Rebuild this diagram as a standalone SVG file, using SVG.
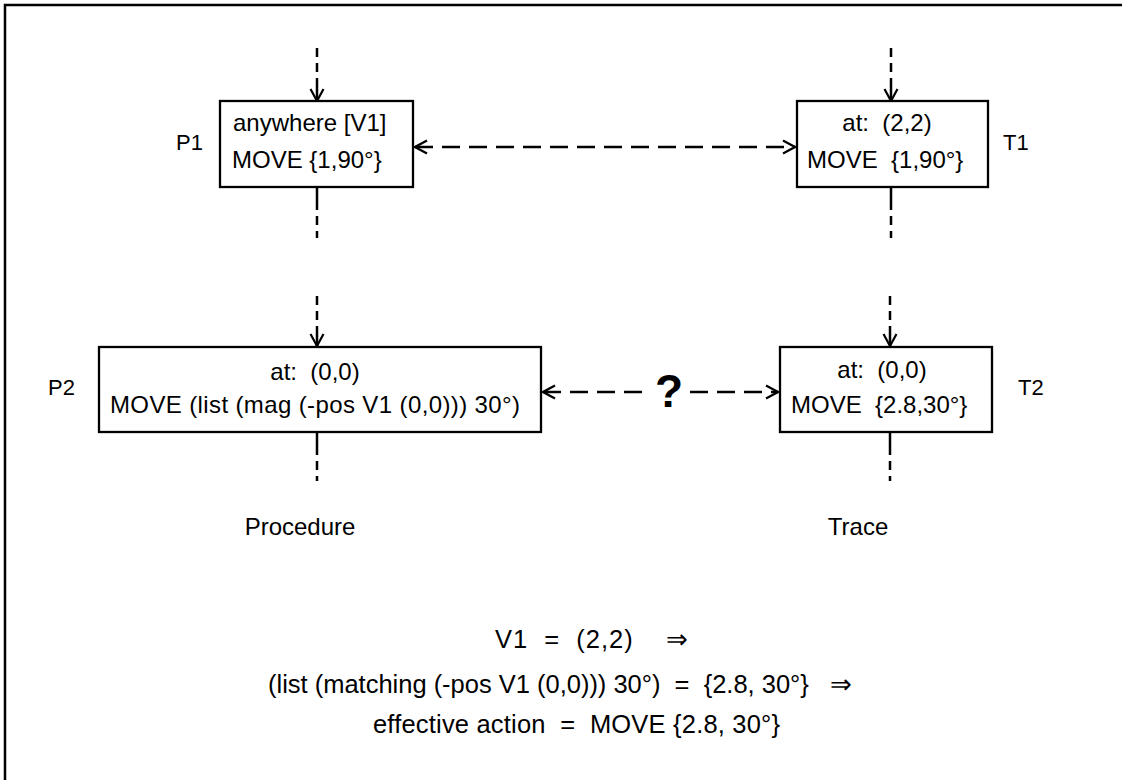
<svg xmlns="http://www.w3.org/2000/svg" width="1122" height="780" viewBox="0 0 1122 780">
<defs>
<style>
.box{fill:#fff;stroke:#000;stroke-width:2.3}
.t{font-family:"Liberation Sans",Arial,sans-serif;font-size:24px;fill:#000;white-space:pre}
.b{font-family:"Liberation Sans",Arial,sans-serif;font-size:25.5px;fill:#000;white-space:pre}
.lbl{font-family:"Liberation Sans",Arial,sans-serif;font-size:22px;fill:#000}
.dash{fill:none;stroke:#000;stroke-width:2.5;stroke-dasharray:9,6}
.solid{fill:none;stroke:#000;stroke-width:2.5}
.hd{fill:none;stroke:#000;stroke-width:2.4;stroke-dasharray:18,9}
</style>
<marker id="ah" viewBox="0 0 16 16" refX="14" refY="8" markerWidth="16" markerHeight="16" markerUnits="userSpaceOnUse" orient="auto-start-reverse">
<path d="M2,1.5 L14,8 L2,14.5" fill="none" stroke="#000" stroke-width="2.2"/>
</marker>
</defs>
<rect width="1122" height="780" fill="#fff"/>
<path d="M5,780 L5,5 L1122,5" fill="none" stroke="#000" stroke-width="2.5"/>

<g id="connectors">
<line class="dash" x1="317" y1="48" x2="317" y2="74"/>
<line class="solid" x1="317" y1="78" x2="317" y2="101" marker-end="url(#ah)"/>
<line class="solid" x1="317" y1="187" x2="317" y2="210"/>
<line class="dash" x1="317" y1="216" x2="317" y2="238"/>
<line class="dash" x1="891" y1="48" x2="891" y2="74"/>
<line class="solid" x1="891" y1="78" x2="891" y2="101" marker-end="url(#ah)"/>
<line class="solid" x1="891" y1="187" x2="891" y2="210"/>
<line class="dash" x1="891" y1="216" x2="891" y2="238"/>
<line class="dash" x1="317" y1="296" x2="317" y2="322"/>
<line class="solid" x1="317" y1="326" x2="317" y2="346" marker-end="url(#ah)"/>
<line class="solid" x1="317" y1="432" x2="317" y2="455"/>
<line class="dash" x1="317" y1="461" x2="317" y2="481"/>
<line class="dash" x1="890" y1="296" x2="890" y2="322"/>
<line class="solid" x1="890" y1="326" x2="890" y2="346" marker-end="url(#ah)"/>
<line class="solid" x1="890" y1="432" x2="890" y2="455"/>
<line class="dash" x1="890" y1="461" x2="890" y2="481"/>
<line class="hd" x1="415" y1="147" x2="795" y2="147" marker-start="url(#ah)" marker-end="url(#ah)"/>
<line class="hd" x1="543" y1="392" x2="650" y2="392" marker-start="url(#ah)"/>
<line class="hd" x1="690" y1="392" x2="778" y2="392" marker-end="url(#ah)"/>
<text x="669" y="407" text-anchor="middle" style="font-family:'Liberation Sans',Arial,sans-serif;font-size:46px;font-weight:bold">?</text>
</g>

<g id="P1">
<rect class="box" x="220" y="101" width="193" height="86"/>
<text class="t" x="233" y="131">anywhere [V1]</text>
<text class="t" x="232" y="168">MOVE {1,90°}</text>
<text class="lbl" x="176" y="150">P1</text>
</g>

<g id="T1">
<rect class="box" x="797" y="101" width="191" height="86"/>
<text class="t" x="887" y="131" text-anchor="middle">at:  (2,2)</text>
<text class="t" x="807" y="168">MOVE  {1,90°}</text>
<text class="lbl" x="1003" y="150">T1</text>
</g>

<g id="P2">
<rect class="box" x="99" y="347" width="442" height="85"/>
<text class="t" x="315" y="380" text-anchor="middle">at:  (0,0)</text>
<text class="t" x="110" y="413" textLength="410">MOVE (list (mag (-pos V1 (0,0))) 30°)</text>
<text class="lbl" x="48" y="395">P2</text>
</g>

<g id="T2">
<rect class="box" x="780" y="347" width="212" height="85"/>
<text class="t" x="882" y="378" text-anchor="middle">at:  (0,0)</text>
<text class="t" x="791" y="413">MOVE  {2.8,30°}</text>
<text class="lbl" x="1018" y="395">T2</text>
</g>

<g id="labels">
<text class="t" x="300" y="535" text-anchor="middle">Procedure</text>
<text class="t" x="858" y="535" text-anchor="middle">Trace</text>
<text class="b" x="495" y="648" textLength="193">V1  =  (2,2)    ⇒</text>
<text class="b" x="268" y="693" textLength="584">(list (matching (-pos V1 (0,0))) 30°)  =  {2.8, 30°}   ⇒</text>
<text class="b" x="373" y="733" textLength="407">effective action  =  MOVE {2.8, 30°}</text>
</g>
</svg>
